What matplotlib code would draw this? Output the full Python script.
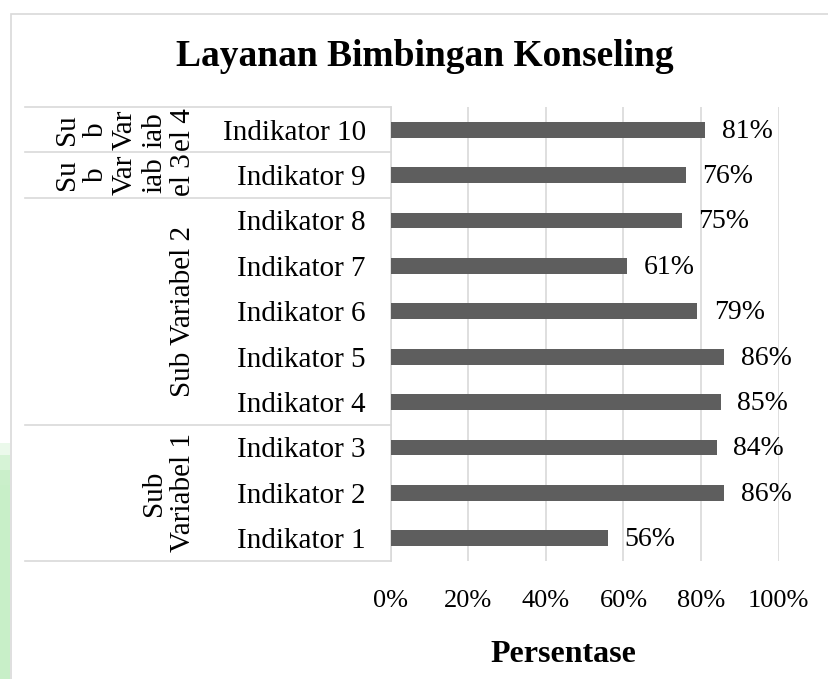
import matplotlib
matplotlib.use("Agg")
import matplotlib.pyplot as plt
from matplotlib.patches import Rectangle
from matplotlib.transforms import blended_transform_factory

plt.rcParams["font.family"] = ["Liberation Serif", "DejaVu Serif"]

# data
indicators = [f"Indikator {i}" for i in range(1, 11)]
values = [56, 86, 84, 85, 86, 79, 61, 75, 76, 81]
groups = ["Sub\nVariabel 1", "Sub Variabel 2", "Su\nb\nVar\niab\nel 3", "Su\nb\nVar\niab\nel 4"]
group_spans = [(0, 2), (3, 7), (8, 8), (9, 9)]
x_ticks = [0, 20, 40, 60, 80, 100]

W, H = 829, 679


def fx(px):
    return px / W


def fy(py):
    return 1 - py / H


fig = plt.figure(figsize=(W / 100, H / 100), dpi=100)

# chart border and green strip at the left edge
fig.patches.append(Rectangle((fx(11), fy(H + 5)), fx(W + 10), fy(14) - fy(H + 5),
                             transform=fig.transFigure, fill=False,
                             edgecolor="#d9d9d9", lw=1.2, zorder=0))
for top, a in [(443, 0.35), (455, 0.6), (470, 0.85), (485, 1.0)]:
    fig.patches.append(Rectangle((0, 0), fx(10), fy(top), transform=fig.transFigure,
                                 facecolor="#c8efc8", edgecolor="none", alpha=a, zorder=0))

left, right, top, bottom = 390.7, 778.7, 107, 561
ax = fig.add_axes([fx(left), fy(bottom), fx(right - left), fy(top) - fy(bottom)])

y = list(range(len(indicators)))
ax.barh(y, [v / 100 for v in values], height=0.344, color="#5e5e5e", zorder=3)
for yi, v in zip(y, values):
    ax.annotate(f"{v}%", (v / 100, yi), xytext=(12, -1), textcoords="offset points",
                ha="left", va="center", fontsize=20, annotation_clip=False)

ax.set_xlim(0, 1)
ax.set_ylim(-0.5, len(indicators) - 0.5)
ax.set_xticks([t / 100 for t in x_ticks])
ax.set_xticklabels([f"{t}%" for t in x_ticks], fontsize=19)
ax.set_yticks(y)
ax.set_yticklabels(indicators, fontsize=21)
ax.tick_params(axis="both", length=0)
ax.tick_params(axis="x", pad=21)
ax.tick_params(axis="y", pad=18)
ax.grid(axis="x", color="#d9d9d9", lw=1.2, zorder=0)
for s in ["top", "right", "bottom"]:
    ax.spines[s].set_visible(False)
ax.spines["left"].set_color("#d9d9d9")
ax.spines["left"].set_linewidth(1.2)

# multi-level category lines and group labels
trans = blended_transform_factory(fig.transFigure, ax.transData)
bounds = [-0.5] + [hi + 0.5 for lo, hi in group_spans]
for b in bounds:
    ax.plot([fx(25), fx(left)], [b, b], transform=trans, color="#d9d9d9",
            lw=1.2, clip_on=False)
for label, (lo, hi) in zip(groups, group_spans):
    ax.text(fx(196), (lo + hi) / 2, label, transform=trans, rotation=90,
            ha="right", va="center", multialignment="center", fontsize=21,
            linespacing=1.15)

fig.text(fx(425), fy(57), "Layanan Bimbingan Konseling", ha="center", va="center",
         fontsize=27, fontweight="bold")
fig.text(fx(563), fy(655), "Persentase", ha="center", va="center",
         fontsize=23, fontweight="bold")

fig.savefig("out.png", dpi=100)
